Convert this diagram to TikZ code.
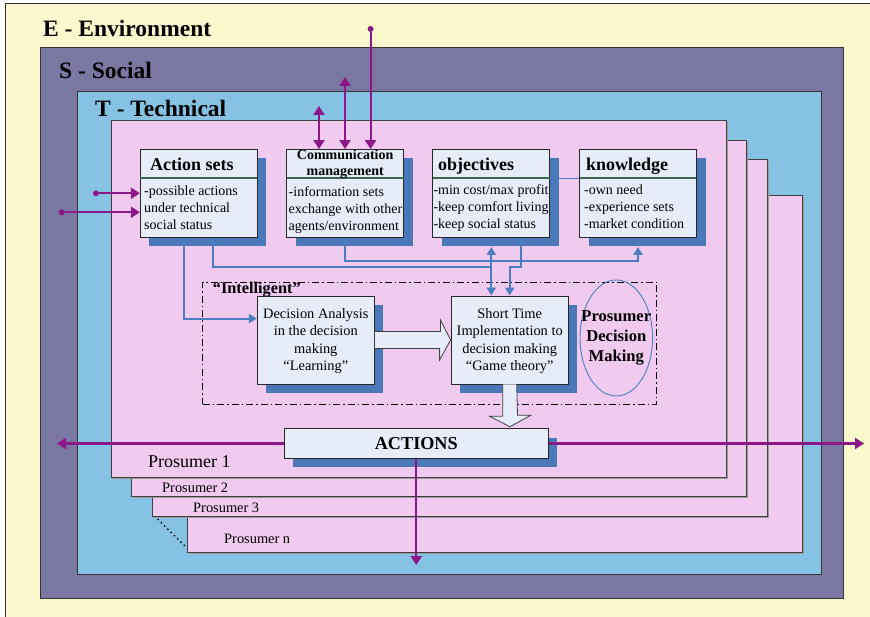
\documentclass[tikz,border=0pt]{standalone}
\usepackage{fontspec}
\setmainfont{Liberation Serif}
\usepackage{xcolor}
\definecolor{envyellow}{RGB}{251,248,205}
\definecolor{socpurple}{RGB}{122,119,163}
\definecolor{techblue}{RGB}{134,194,227}
\definecolor{prospink}{RGB}{240,202,239}
\definecolor{boxfill}{RGB}{230,237,248}
\definecolor{shadowblue}{RGB}{74,120,185}
\definecolor{flowblue}{RGB}{74,126,192}
\definecolor{ctlpurple}{RGB}{140,24,136}
\definecolor{headgreen}{RGB}{62,105,80}
\usetikzlibrary{
  arrows.meta,
  positioning,
  calc,
  shadows,
  shapes.geometric
}

\begin{document}
\begin{tikzpicture}[x=1pt, y=-1pt,
  zone/.style={draw=black!80, line width=0.8pt, fill=#1},
  sheet/.style={draw=black!75, line width=0.8pt, fill=prospink, inner sep=0pt, anchor=north west,
    drop shadow={shadow xshift=1.2pt, shadow yshift=-1.2pt, fill=black!40, opacity=1}},
  box/.style={draw=black!85, line width=0.9pt, fill=boxfill, inner sep=0pt,
    drop shadow={shadow xshift=9pt, shadow yshift=-9pt, fill=shadowblue, opacity=1}},
  headline/.style={headgreen, line width=1.3pt},
  ttl/.style={font=\fontsize{18}{20}\selectfont\bfseries, inner sep=0pt, anchor=west},
  txt/.style={font=\fontsize{14}{17}\selectfont, align=left, inner sep=0pt, anchor=north west},
  ctr/.style={font=\fontsize{14.4}{17.4}\selectfont, align=center, inner sep=0pt},
  lyr/.style={font=\fontsize{23.5}{26}\selectfont\bfseries, inner sep=0pt, anchor=west},
  plabel/.style={font=\fontsize{14.4}{16}\selectfont, inner sep=0pt, anchor=west},
  flow/.style={-{Triangle[length=8pt,width=9pt]}, line width=2pt, flowblue},
  flowline/.style={line width=2pt, flowblue},
  ctl/.style={-{Triangle[length=9pt,width=11pt]}, line width=2.2pt, ctlpurple},
  ctlboth/.style={ctl, {Triangle[length=9pt,width=11pt]}-{Triangle[length=9pt,width=11pt]}},
  srcdot/.style={circle, fill=ctlpurple, inner sep=0pt, minimum size=6pt},
  hollow/.style={draw=black!75, fill=boxfill, line width=0.8pt, line join=miter}
]
  \useasboundingbox (0,0) rectangle (870,617);

  % E / S / T layers
  \fill[envyellow] (5,3) rectangle (870,617);
  \draw[black!80, line width=0.8pt] (5,617) -- (5,3) -- (870,3);
  \draw[zone=socpurple] (40,47) rectangle (843,598);
  \draw[zone=techblue] (77,91) rectangle (821,574);
  \node[lyr] (env) at (43,28) {E - Environment};
  \node[lyr] (soc) at (59,70) {S - Social};
  \node[lyr] (tech) at (95,108) {T - Technical};

  % stacked prosumers
  \node[sheet, minimum width=615pt, minimum height=357pt] (pn) at (187,195) {};
  \node[sheet, minimum width=615pt, minimum height=357pt] (p3) at (152,159) {};
  \node[sheet, minimum width=615pt, minimum height=356pt] (p2) at (131,140) {};
  \node[sheet, minimum width=615pt, minimum height=357pt] (p1) at (111,120) {};
  \node[plabel, font=\fontsize{18}{20}\selectfont] (p1lbl) at (148,462) {Prosumer 1};
  \node[plabel] (p2lbl) at (162,488) {Prosumer 2};
  \node[plabel] (p3lbl) at (193,508) {Prosumer 3};
  \node[plabel] (pnlbl) at (224,539) {Prosumer n};
  \draw[black, line width=2pt, line cap=round, dash pattern=on 0pt off 4.6pt]
    (158,519.5) -- (185,546);

  % upper row
  \node[box, minimum width=117pt, minimum height=88pt] (act) at (198.8,193.5) {};
  \node[box, minimum width=117pt, minimum height=88pt] (com) at (345.2,193.5) {};
  \node[box, minimum width=117pt, minimum height=88pt] (obj) at (491.3,193.5) {};
  \node[box, minimum width=117pt, minimum height=88pt] (knw) at (638,193.5) {};
  \foreach \b in {act,com,obj,knw}
    \draw[headline] ($(\b.north west)+(0.5,29)$) -- ($(\b.north east)+(-0.5,29)$);
  \draw[flowblue, line width=0.8pt] ($(obj.north east)+(9,29)$) -- ($(knw.north west)+(0,29)$);

  \node[ttl] (acttl) at (150,164) {Action sets};
  \node[ttl, anchor=center, align=center, font=\fontsize{14}{16.6}\selectfont\bfseries]
    (comtl) at (345.2,164) {Communication\\management};
  \node[ttl] (objtl) at (438,166) {objectives};
  \node[ttl] (knwtl) at (586,166) {knowledge};

  \node[txt] (actxt) at (144,186) {-possible actions\\under technical\\social status};
  \node[txt] (comtxt) at (288.5,186) {-information sets\\exchange with other\\agents/environment};
  \node[txt] (objtxt) at (433.3,184.5) {-min cost/max profit\\-keep comfort living\\-keep social status};
  \node[txt] (knwtxt) at (584,184.5) {-own need\\-experience sets\\-market condition};

  % intelligent part
  \node[draw=black, line width=0.9pt, dash pattern=on 7pt off 3pt on 1.5pt off 3pt,
    minimum width=454pt, minimum height=122pt, inner sep=0pt] (intel) at (429.7,343) {};
  \node[ttl, font=\fontsize{16.3}{18}\selectfont\bfseries] (inttl) at (212.7,290) {“Intelligent”};

  \node[box, minimum width=117pt, minimum height=88pt] (da) at (315.8,340) {};
  \node[ctr] (datxt) at (315.8,341) {Decision Analysis\\in the decision\\making\\“Learning”};
  \node[box, minimum width=117.3pt, minimum height=88pt] (st) at (509.7,340) {};
  \node[ctr] (sttxt) at (509.7,341) {Short Time\\Implementation to\\decision making\\“Game theory”};

  \node[ellipse, draw=flowblue, line width=0.9pt, minimum width=72.6pt, minimum height=116pt,
    inner sep=0pt] (pdm) at (616.3,338) {};
  \node[ctr, font=\fontsize{16.6}{20}\selectfont\bfseries] (pdmtxt) at (pdm) {Prosumer\\Decision\\Making};

  % actions
  \node[box, minimum width=264pt, minimum height=29.6pt,
    font=\fontsize{18.2}{20}\selectfont\bfseries] (acts) at (416.3,443.5) {ACTIONS};

  % hollow arrows
  \draw[hollow] ($(da.east)+(0,-8.5)$) -- ++(65.7,0) -- ++(0,-11.5) -- (st.west)
    -- ++(-11,20) -- ++(0,-11.5) -- ($(da.east)+(0,8.5)$);
  \draw[hollow] ($(st.south)+(-7,0)$) -- ++(0,31.7) -- ++(-13.4,0) -- ($(acts.north)+(93.7,-1.5)$)
    -- ++(20.9,-11.6) -- ++(-13.4,0) -- ($(st.south)+(7,0)$);

  % blue flows
  \coordinate (jn) at ($(obj.south)+(0,23.5)$);
  \draw[flow] ($(act.south)+(-14.8,0)$) |- ($(da.north west)+(0,23)$);
  \draw[flowline] ($(act.south)+(14,0)$) |- ($(jn)+(0,5.5)$);
  \draw[flow] (com.south) -- ++(0,23.5) -| ($(knw.south)+(0,9)$);
  \draw[flow] (jn) -- ($(obj.south)+(0,9)$);
  \draw[flow] (jn) -- (st.north -| jn);
  \draw[flow] ($(obj.south)+(29.5,0)$) -- ++(0,29) -| (st.north);

  % purple links
  \node[srcdot] (s1) at (96,193.3) {};
  \node[srcdot] (s2) at (61.7,212.3) {};
  \draw[ctl] (s1) -- (s1 -| act.west);
  \draw[ctl] (s2) -- (s2 -| act.west);
  \coordinate (c1) at (319,106);
  \coordinate (c2) at (345,77);
  \node[srcdot] (s3) at (370.6,29) {};
  \draw[ctlboth] (c1) -- (c1 |- com.north);
  \draw[ctlboth] (c2) -- (c2 |- com.north);
  \draw[ctl] (s3) -- (s3 |- com.north);

  \coordinate (lft) at (57,443.5);
  \coordinate (rgt) at (864,443.5);
  \coordinate (dwn) at (416.3,565);
  \draw[ctl] (acts.west) -- (lft);
  \draw[ctl] (acts.east) -- (rgt);
  \draw[ctl] (acts.south) -- (dwn);
\end{tikzpicture}
\end{document}
